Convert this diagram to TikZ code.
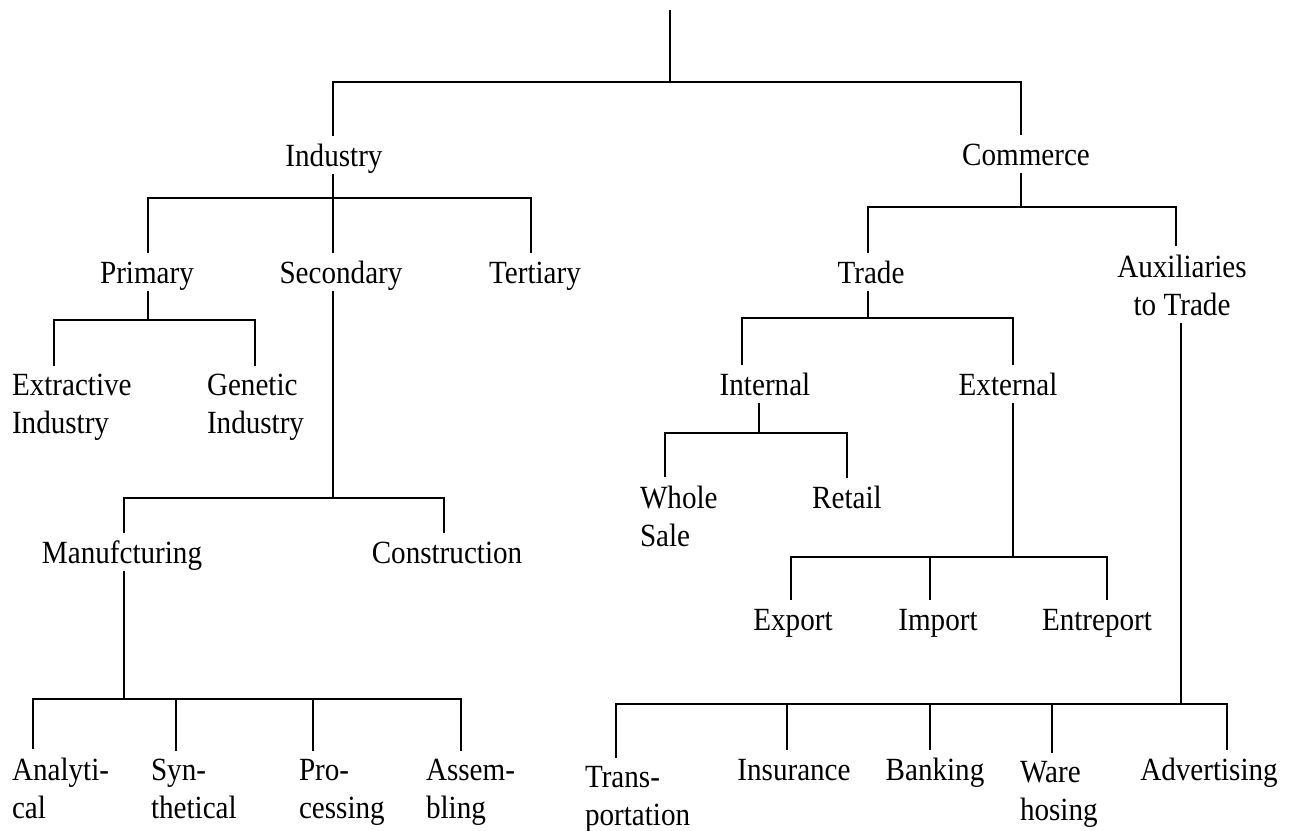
\documentclass[tikz,border=0pt]{standalone}
\usepackage{fontspec}
\setmainfont{Liberation Serif}[FakeStretch=0.9]
\tikzset{lbl/.style={font=\fontsize{9.2}{10.8}\selectfont, inner sep=0pt,
    outer sep=2.3pt, text height=6.3pt, text depth=0pt, anchor=base},
  lblii/.style={font=\fontsize{9.2}{10.8}\selectfont, inner sep=0pt,
    outer xsep=0pt, outer ysep=2.3pt, align=left, anchor=base west},
  link/.style={draw, line width=0.8pt}}
\begin{document}
\begin{tikzpicture}[x=0.01cm, y=-0.01cm]
\useasboundingbox (0,0) rectangle (1291,830);
% labels
\node[lbl] (ind) at (334,166) {Industry};
\node[lbl] (com) at (1026,165) {Commerce};
\node[lbl] (pri) at (147,283) {Primary};
\node[lbl] (sec) at (341,283) {Secondary};
\node[lbl] (ter) at (535,283) {Tertiary};
\node[lblii] (extr) at (12,433) {Extractive\\Industry};
\node[lblii] (gen) at (207,433) {Genetic\\Industry};
\node[lbl] (man) at (122,563) {Manufcturing};
\node[lbl] (con) at (447,563) {Construction};
\node[lblii] (ana) at (12,818) {Analyti-\\cal};
\node[lblii] (syn) at (151,818) {Syn-\\thetical};
\node[lblii] (pro) at (299,818) {Pro-\\cessing};
\node[lblii] (ass) at (426,818) {Assem-\\bling};
\node[lbl] (tra) at (871,283) {Trade};
\node[lblii, align=center, anchor=base] (aux) at (1182,315) {Auxiliaries\\to Trade};
\node[lbl] (int) at (765,395) {Internal};
\node[lbl] (ext) at (1008,395) {External};
\node[lblii] (who) at (640,546) {Whole\\Sale};
\node[lbl] (ret) at (847,508) {Retail};
\node[lbl] (exp) at (793,630) {Export};
\node[lbl] (imp) at (938,630) {Import};
\node[lbl] (ent) at (1097,630) {Entreport};
\node[lblii] (trn) at (585,825) {Trans-\\portation};
\node[lbl] (ins) at (794,780) {Insurance};
\node[lbl] (ban) at (935,780) {Banking};
\node[lblii] (war) at (1020,820) {Ware\\hosing};
\node[lbl] (adv) at (1209,780) {Advertising};
% junctions
\coordinate (top) at (670,10);
\coordinate (j0) at (670,82);
\coordinate (jind) at (333,198);
\coordinate (jpri) at (148,320);
\coordinate (jsec) at (333,498);
\coordinate (jman) at (124,699);
\coordinate (jcom) at (1021,207);
\coordinate (jtra) at (868,318);
\coordinate (jint) at (759,433);
\coordinate (jext) at (1013,557);
\coordinate (jaux) at (1181,704);
% root
\draw[link] (top) -- (j0);
\draw[link] (ind.north -| jind) |- (j0);
\draw[link] (com.north -| jcom) |- (j0);
% industry
\draw[link] (ind.south -| jind) -- (jind);
\draw[link] (pri.north -| jpri) |- (jind);
\draw[link] (sec.north -| jind) -- (jind);
\draw[link] ([xshift=-.4mm]ter.north) |- (jind);
\draw[link] (pri.south -| jpri) -- (jpri);
\draw[link] ([xshift=4.2mm]extr.north west) |- (jpri);
\draw[link] ([xshift=4.8mm]gen.north west) |- (jpri);
\draw[link] (sec.south -| jsec) -- (jsec);
\draw[link] (man.north -| jman) |- (jsec);
\draw[link] ([xshift=-.3mm]con.north) |- (jsec);
\draw[link] (man.south -| jman) -- (jman);
\draw[link] ([xshift=2.1mm]ana.north west) |- (jman);
\draw[link] ([xshift=2.5mm]syn.north west) |- (jman);
\draw[link] ([xshift=1.4mm]pro.north west) |- (jman);
\draw[link] ([xshift=3.5mm]ass.north west) |- (jman);
% commerce
\draw[link] (com.south -| jcom) -- (jcom);
\draw[link] (tra.north -| jtra) |- (jcom);
\draw[link] ([xshift=-.6mm]aux.north) |- (jcom);
\draw[link] (tra.south -| jtra) -- (jtra);
\draw[link] ([xshift=-2.3mm]int.north) |- (jtra);
\draw[link] (ext.north -| jext) |- (jtra);
\draw[link] (int.south -| jint) -- (jint);
\draw[link] ([xshift=2.5mm]who.north west) |- (jint);
\draw[link] (ret.north) |- (jint);
\draw[link] (ext.south -| jext) -- (jext);
\draw[link] ([xshift=-.2mm]exp.north) |- (jext);
\draw[link] ([xshift=-.8mm]imp.north) |- (jext);
\draw[link] ([xshift=1mm]ent.north) |- (jext);
\draw[link] (aux.south -| jaux) -- (jaux);
\draw[link] ([xshift=3.1mm]trn.north west) |- (jaux);
\draw[link] ([xshift=-.7mm]ins.north) |- (jaux);
\draw[link] ([xshift=-.5mm]ban.north) |- (jaux);
\draw[link] ([xshift=3.2mm]war.north west) |- (jaux);
\draw[link] ([xshift=1.8mm]adv.north) |- (jaux);
\end{tikzpicture}
\end{document}
